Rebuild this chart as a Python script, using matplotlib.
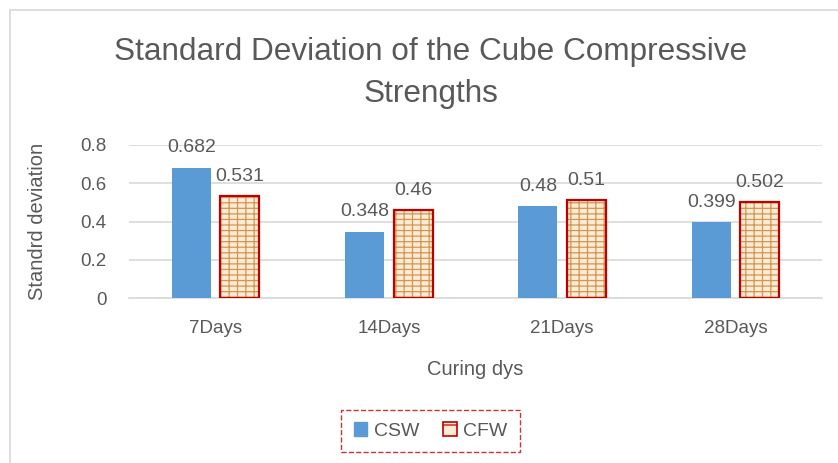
import matplotlib.pyplot as plt
from matplotlib.patches import Patch
from matplotlib.lines import Line2D
import numpy as np

plt.rcParams['font.family'] = ['Liberation Sans', 'DejaVu Sans']

CATEGORIES = ["7Days", "14Days", "21Days", "28Days"]
CSW = [0.682, 0.348, 0.48, 0.399]
CFW = [0.531, 0.46, 0.51, 0.502]

TEXT = "#595959"
BLUE = "#5B9BD5"
RED = "#C00000"
CREAM = "#FDEBD3"
MORTAR = "#D39655"

fig = plt.figure(figsize=(8.38, 4.63), dpi=100)
ax = fig.add_axes([0.154, 0.356, 0.827, 0.331])

x = np.arange(len(CATEGORIES))
width = 0.225
offset = 0.14

csw_bars = ax.bar(x - offset, CSW, width, color=BLUE, zorder=3)
plt.rcParams['hatch.linewidth'] = 0.9
ax.bar(x + offset, CFW, width, color=CREAM, edgecolor=MORTAR, hatch="---||",
       linewidth=0, zorder=3)
cfw_bars = ax.bar(x + offset, CFW, width, fill=False, edgecolor=RED,
                  linewidth=1.6, zorder=4)

ax.bar_label(csw_bars, labels=[f"{v:g}" for v in CSW], padding=8,
             fontsize=14, color=TEXT)
ax.bar_label(cfw_bars, labels=[f"{v:g}" for v in CFW], padding=8,
             fontsize=14, color=TEXT)

ax.set_xlim(-0.5, len(CATEGORIES) - 0.5)
ax.set_ylim(0, 0.8)
ax.set_yticks([0, 0.2, 0.4, 0.6, 0.8])
ax.set_yticklabels(["0", "0.2", "0.4", "0.6", "0.8"])
ax.set_xticks(x)
ax.set_xticklabels(CATEGORIES)
ax.tick_params(length=0, labelsize=13.5, labelcolor=TEXT)
ax.tick_params(axis="y", pad=16)
ax.tick_params(axis="x", pad=16)
ax.grid(axis="y", color="#D9D9D9", linewidth=1.2, zorder=0)
for side in ["top", "right", "left"]:
    ax.spines[side].set_visible(False)
ax.spines["bottom"].set_color("#D9D9D9")
ax.spines["bottom"].set_linewidth(1.2)

ax.set_xlabel("Curing dys", fontsize=14.5, color=TEXT, labelpad=16)
ax.set_ylabel("Standrd deviation", fontsize=14.5, color=TEXT, labelpad=24)

fig.text(0.514, 0.842, "Standard Deviation of the Cube Compressive\nStrengths",
         ha="center", va="center", fontsize=22.7, color=TEXT, linespacing=1.5)

handles = [Patch(facecolor=BLUE, edgecolor=BLUE),
           Patch(facecolor=CREAM, edgecolor=RED, hatch="-", linewidth=1.2)]
leg = fig.legend(handles, ["CSW", "CFW"], loc="center",
                 bbox_to_anchor=(0.514, 0.069), ncol=2, fontsize=14,
                 frameon=True, fancybox=False, handlelength=0.7,
                 handleheight=0.7, handletextpad=0.35, columnspacing=1.2,
                 borderpad=0.65, borderaxespad=0)
for t in leg.get_texts():
    t.set_color(TEXT)
frame = leg.get_frame()
frame.set_edgecolor(RED)
frame.set_linestyle("--")
frame.set_linewidth(1.0)

fig.add_artist(Line2D([9.5 / 838, 1], [1 - 9.5 / 463, 1 - 9.5 / 463],
                      color="#D9D9D9", linewidth=1.2))
fig.add_artist(Line2D([9.5 / 838, 9.5 / 838], [0, 1 - 9.5 / 463],
                      color="#D9D9D9", linewidth=1.2))

fig.savefig("out.png", dpi=100)
